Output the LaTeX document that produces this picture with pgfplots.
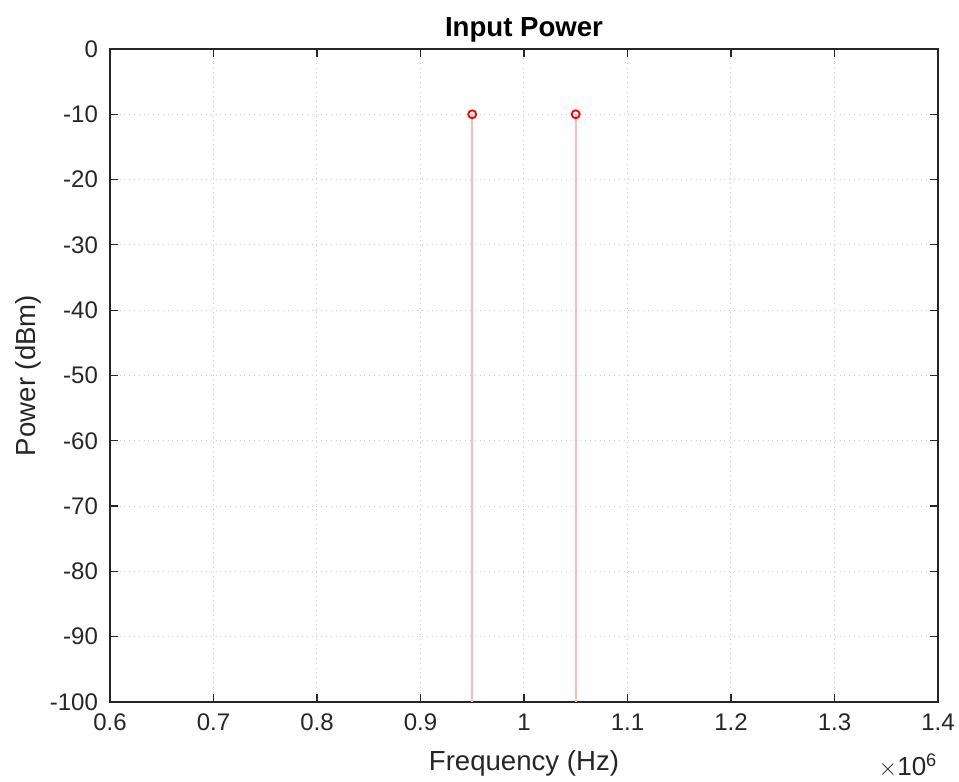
\documentclass[border=0pt]{standalone}
\usepackage{pgfplots}
\pgfplotsset{compat=1.18}
\usepackage{fontspec}
\setmainfont{Liberation Sans}
\definecolor{axgray}{RGB}{38,38,38}
\definecolor{gridgray}{RGB}{205,205,205}
\definecolor{stemred}{RGB}{255,185,185}
\begin{document}
\begin{tikzpicture}
\begin{axis}[
  at={(0,0)}, anchor=south west,
  width=414pt, height=326.5pt, scale only axis,
  xmin=0.6, xmax=1.4, ymin=-100, ymax=0,
  xtick={0.6,0.7,...,1.41}, ytick={-100,-90,...,0},
  xticklabels={0.6,0.7,0.8,0.9,1,1.1,1.2,1.3,1.4},
  yticklabels={-100,-90,-80,-70,-60,-50,-40,-30,-20,-10,0},
  tick align=inside, major tick length=4pt,
  axis line style={axgray, line width=0.6pt},
  every tick/.style={axgray, line width=0.6pt},
  tick label style={font=\fontsize{12}{14}\selectfont, text=axgray},
  xticklabel style={yshift=-2.5pt},
  yticklabel style={xshift=-2.5pt},
  grid=major, grid style={gridgray, dotted, line width=0.5pt},
  title={\textbf{Input Power}},
  title style={at={(axis description cs:0.5,1)}, anchor=center, yshift=3.5pt, font=\fontsize{13.8}{16}\selectfont},
  xlabel={Frequency (Hz)},
  label style={font=\fontsize{13.8}{16}\selectfont, text=axgray},
  xlabel style={at={(axis description cs:0.5,0)}, anchor=center, yshift=-30.5pt},
  clip=true,
]
\addplot[stemred, line width=0.8pt, no marks] coordinates {(0.95,-100) (0.95,-10)};
\addplot[stemred, line width=0.8pt, no marks] coordinates {(1.05,-100) (1.05,-10)};
\addplot[only marks, red, mark=o, mark size=2pt, line width=0.9pt] coordinates {(0.95,-10) (1.05,-10)};
\end{axis}
\node[axgray, font=\fontsize{13.8}{16}\selectfont, rotate=90] at (-41pt,163.25pt) {Power (dBm)};
\node[axgray, font=\fontsize{13}{15}\selectfont] at (399pt,-32pt) {$\times$10\textsuperscript{6}};
\pgfresetboundingbox
\path (-55pt,-40pt) rectangle (424.5pt,351pt);
\end{tikzpicture}
\end{document}
